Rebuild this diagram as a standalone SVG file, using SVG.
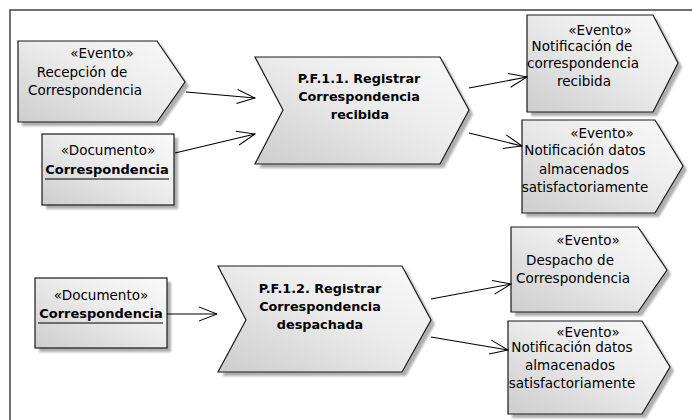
<svg xmlns="http://www.w3.org/2000/svg" width="692" height="420" viewBox="0 0 692 420">
<defs>
<linearGradient id="g" x1="0" y1="1" x2="1" y2="0">
<stop offset="0" stop-color="#cdcdcd"/>
<stop offset="0.55" stop-color="#ececec"/>
<stop offset="1" stop-color="#fafafa"/>
</linearGradient>
<filter id="blur" x="-10%" y="-10%" width="130%" height="130%">
<feGaussianBlur stdDeviation="1.2"/>
</filter>
<marker id="arr" viewBox="0 0 20 16" refX="19" refY="8" markerWidth="20" markerHeight="16" markerUnits="userSpaceOnUse" orient="auto">
<path d="M1,1 L19,8 L1,15" fill="none" stroke="#000" stroke-width="1"/>
</marker>
<style>
.sh{fill:#8c8c8c;opacity:0.7;filter:url(#blur)}
.nd{fill:url(#g);stroke:#1a1a1a;stroke-width:1.2}
.t{font-family:"DejaVu Sans",Verdana,sans-serif;font-size:13.5px;fill:#000;text-anchor:middle}
.b{font-family:"DejaVu Sans",Verdana,sans-serif;font-size:12.8px;font-weight:bold;fill:#000;text-anchor:middle}
.c{fill:none;stroke:#000;stroke-width:1.1;marker-end:url(#arr)}
.u{stroke:#000;stroke-width:1.2}
</style>
</defs>
<rect width="692" height="420" fill="#fff"/>
<path d="M10,420 L10,10 L692,10" fill="none" stroke="#404040" stroke-width="1.5"/>

<g id="evento-recepcion">
<polygon class="sh" transform="translate(4,4)" points="18,41 157,41 185,82 157,122 18,122"/>
<polygon class="nd" points="18,41 157,41 185,82 157,122 18,122"/>
<text class="t" x="102" y="58">«Evento»</text>
<text class="t" x="82" y="77">Recepción de</text>
<text class="t" x="85" y="95">Correspondencia</text>
</g>

<g id="documento-1">
<rect class="sh" x="46" y="138" width="132" height="71"/>
<rect class="nd" x="42" y="134" width="132" height="71"/>
<text class="t" x="108" y="155">«Documento»</text>
<text class="b" x="107" y="174" style="font-size:13px">Correspondencia</text>
<line class="u" x1="45" y1="179" x2="169" y2="179"/>
</g>

<g id="proceso-1">
<polygon class="sh" transform="translate(4,4)" points="255,57 440,57 469,110 440,164 255,164 283,110"/>
<polygon class="nd" points="255,57 440,57 469,110 440,164 255,164 283,110"/>
<text class="b" x="359" y="83">P.F.1.1. Registrar</text>
<text class="b" x="359" y="101">Correspondencia</text>
<text class="b" x="360" y="119">recibida</text>
</g>

<g id="evento-notificacion-correspondencia">
<polygon class="sh" transform="translate(4,4)" points="527,15 653,15 678,63 653,112 527,112"/>
<polygon class="nd" points="527,15 653,15 678,63 653,112 527,112"/>
<text class="t" x="600" y="35">«Evento»</text>
<text class="t" x="582" y="51">Notificación de</text>
<text class="t" x="583" y="68">correspondencia</text>
<text class="t" x="584" y="86">recibida</text>
</g>

<g id="evento-notificacion-datos-1">
<polygon class="sh" transform="translate(4,4)" points="522,120 655,120 683,166 655,213 522,213"/>
<polygon class="nd" points="522,120 655,120 683,166 655,213 522,213"/>
<text class="t" x="602" y="138">«Evento»</text>
<text class="t" x="585" y="155">Notificación datos</text>
<text class="t" x="584" y="174">almacenados</text>
<text class="t" x="585" y="192">satisfactoriamente</text>
</g>

<g id="documento-2">
<rect class="sh" x="39" y="282" width="132" height="70"/>
<rect class="nd" x="35" y="278" width="132" height="70"/>
<text class="t" x="101" y="300">«Documento»</text>
<text class="b" x="101" y="318" style="font-size:13px">Correspondencia</text>
<line class="u" x1="38" y1="323" x2="163" y2="323"/>
</g>

<g id="proceso-2">
<polygon class="sh" transform="translate(4,4)" points="218,266 402,266 431,320 402,372 218,372 246,320"/>
<polygon class="nd" points="218,266 402,266 431,320 402,372 218,372 246,320"/>
<text class="b" x="320" y="293">P.F.1.2. Registrar</text>
<text class="b" x="320" y="311">Correspondencia</text>
<text class="b" x="320" y="329">despachada</text>
</g>

<g id="evento-despacho">
<polygon class="sh" transform="translate(4,4)" points="511,227 638,227 667,270 638,312 511,312"/>
<polygon class="nd" points="511,227 638,227 667,270 638,312 511,312"/>
<text class="t" x="588" y="245">«Evento»</text>
<text class="t" x="570" y="265">Despacho de</text>
<text class="t" x="573" y="283">Correspondencia</text>
</g>

<g id="evento-notificacion-datos-2">
<polygon class="sh" transform="translate(4,4)" points="508,321 642,321 670,367 642,414 508,414"/>
<polygon class="nd" points="508,321 642,321 670,367 642,414 508,414"/>
<text class="t" x="588" y="337">«Evento»</text>
<text class="t" x="572" y="352">Notificación datos</text>
<text class="t" x="570" y="370">almacenados</text>
<text class="t" x="572" y="388">satisfactoriamente</text>
</g>

<g id="conectores">
<line class="c" x1="186" y1="92" x2="255" y2="98"/>
<line class="c" x1="175" y1="153" x2="255" y2="134"/>
<line class="c" x1="469" y1="88" x2="527" y2="77"/>
<line class="c" x1="469" y1="133" x2="522" y2="146"/>
<line class="c" x1="167" y1="314" x2="217" y2="314"/>
<line class="c" x1="431" y1="299" x2="511" y2="284"/>
<line class="c" x1="431" y1="337" x2="508" y2="350"/>
</g>
</svg>
